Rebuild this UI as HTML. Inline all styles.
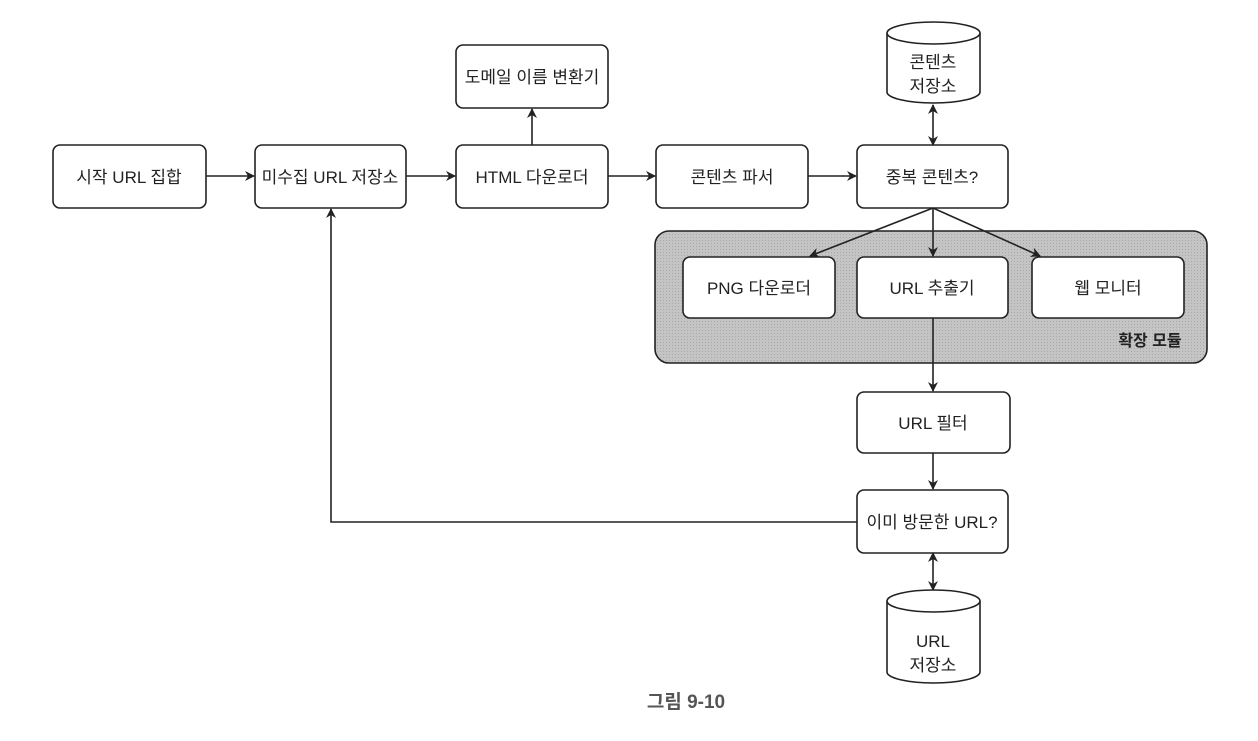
<!DOCTYPE html>
<html><head><meta charset="utf-8"><style>
body{margin:0;background:#fff;}
svg text{font-family:"Liberation Sans","Noto Sans CJK KR",sans-serif;font-size:17px;fill:#222;}
</style></head><body>
<svg width="1258" height="736" viewBox="0 0 1258 736" xmlns="http://www.w3.org/2000/svg">
<defs>
<marker id="a" markerWidth="10" markerHeight="10" refX="9" refY="5" orient="auto-start-reverse" markerUnits="userSpaceOnUse">
<path d="M0,0 L10,5 L0,10 L3,5 Z" fill="#222"/></marker>
<pattern id="p" width="3" height="3" patternUnits="userSpaceOnUse"><rect width="3" height="3" fill="#c4c4c4"/><rect width="1" height="1" fill="#a8a8a8"/></pattern>
</defs>
<g stroke="#222" stroke-width="1.6" fill="#fff">
<rect x="655" y="231" width="552" height="132" rx="14" fill="url(#p)"/>
<rect x="53" y="145" width="153" height="63" rx="7"/>
<rect x="255" y="145" width="151" height="63" rx="7"/>
<rect x="456" y="145" width="152" height="63" rx="7"/>
<rect x="456" y="45" width="152" height="63" rx="7"/>
<rect x="656" y="145" width="152" height="63" rx="7"/>
<rect x="857" y="145" width="151" height="63" rx="7"/>
<rect x="683" y="257" width="152" height="61" rx="7"/>
<rect x="857" y="257" width="151" height="61" rx="7"/>
<rect x="1032" y="257" width="152" height="61" rx="7"/>
<rect x="857" y="392" width="153" height="61" rx="7"/>
<rect x="857" y="490" width="151" height="63" rx="7"/>
<path d="M887,33 V92 A46.5,11 0 0 0 980,92 V33"/>
<ellipse cx="933.5" cy="33" rx="46.5" ry="11"/>
<path d="M887,601 V672 A46.5,11 0 0 0 980,672 V601"/>
<ellipse cx="933.5" cy="601" rx="46.5" ry="11"/>
</g>
<g stroke="#222" stroke-width="1.6" fill="none">
<line x1="206" y1="176" x2="254" y2="176" marker-end="url(#a)"/>
<line x1="406" y1="176" x2="455" y2="176" marker-end="url(#a)"/>
<line x1="608" y1="176" x2="655" y2="176" marker-end="url(#a)"/>
<line x1="808" y1="176" x2="856" y2="176" marker-end="url(#a)"/>
<line x1="532" y1="145" x2="532" y2="109" marker-end="url(#a)"/>
<line x1="933" y1="145" x2="933" y2="105" marker-start="url(#a)" marker-end="url(#a)"/>
<line x1="933" y1="208" x2="810" y2="256" marker-end="url(#a)"/>
<line x1="933" y1="208" x2="933" y2="256" marker-end="url(#a)"/>
<line x1="933" y1="208" x2="1040" y2="256" marker-end="url(#a)"/>
<line x1="933" y1="318" x2="933" y2="391" marker-end="url(#a)"/>
<line x1="933" y1="453" x2="933" y2="489" marker-end="url(#a)"/>
<line x1="933" y1="553" x2="933" y2="590" marker-start="url(#a)" marker-end="url(#a)"/>
<polyline points="857,522 331,522 331,209" marker-end="url(#a)"/>
</g>
<g text-anchor="middle">
<text x="129" y="183">시작 URL 집합</text>
<text x="330" y="183">미수집 URL 저장소</text>
<text x="532" y="183">HTML 다운로더</text>
<text x="532" y="83">도메일 이름 변환기</text>
<text x="732" y="183">콘텐츠 파서</text>
<text x="932" y="183">중복 콘텐츠?</text>
<text x="933" y="68">콘텐츠</text>
<text x="933" y="92">저장소</text>
<text x="759" y="294">PNG 다운로더</text>
<text x="932" y="294">URL 추출기</text>
<text x="1108" y="294">웹 모니터</text>
<text x="933" y="429">URL 필터</text>
<text x="932" y="528">이미 방문한 URL?</text>
<text x="933" y="647">URL</text>
<text x="933" y="671">저장소</text>
<text x="1150" y="346" style="font-weight:bold;font-size:16px">확장 모듈</text>
<text x="686" y="708" style="font-weight:bold;font-size:19px;fill:#555">그림 9-10</text>
</g>
</svg>
</body></html>
